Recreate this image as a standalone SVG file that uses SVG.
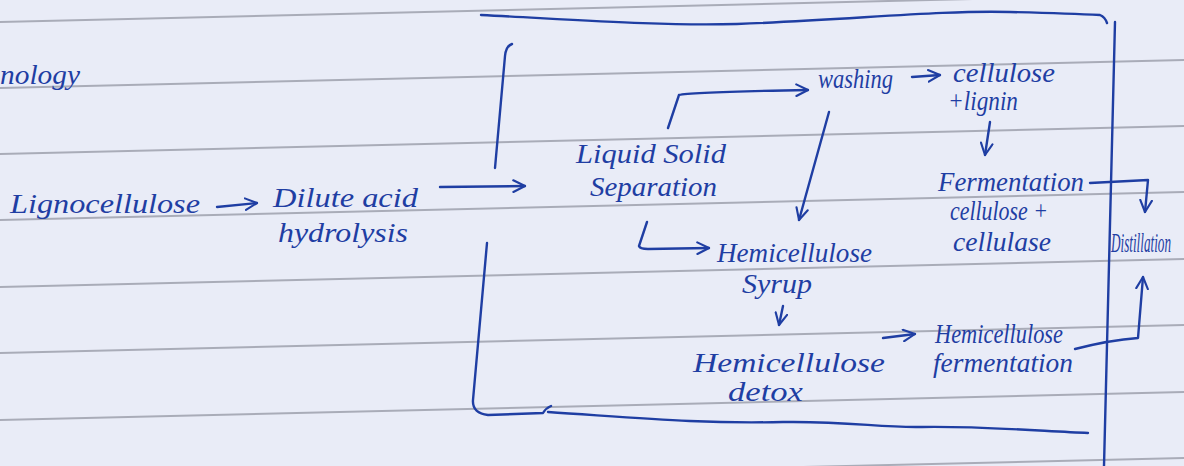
<svg xmlns="http://www.w3.org/2000/svg" width="1184" height="466" viewBox="0 0 1184 466">
<style>
.paper{fill:#e9ecf7}
.rule{stroke:#a9acb8;stroke-width:2;fill:none}
.ink{stroke:#1f3ea3;stroke-width:2.4;fill:none;stroke-linecap:round;stroke-linejoin:round}
.t{font-family:"Liberation Serif",serif;font-style:italic;font-size:27px;fill:#1f3ea3}
</style>
<defs>
<marker id="chev" viewBox="0 0 12 12" refX="11" refY="6" markerWidth="14" markerHeight="14" markerUnits="userSpaceOnUse" orient="auto">
<path d="M1,1 L11,6 L1,11" fill="none" stroke="#1f3ea3" stroke-width="1.8" stroke-linecap="round" stroke-linejoin="round"/>
</marker>
</defs>
<rect class="paper" x="0" y="0" width="1184" height="466"/>
<g id="rules">
<line class="rule" x1="0" y1="22" x2="1184" y2="-6"/>
<line class="rule" x1="0" y1="88" x2="1184" y2="60"/>
<line class="rule" x1="0" y1="154" x2="1184" y2="126"/>
<line class="rule" x1="0" y1="220" x2="1184" y2="192"/>
<line class="rule" x1="0" y1="287" x2="1184" y2="259"/>
<line class="rule" x1="0" y1="353" x2="1184" y2="325"/>
<line class="rule" x1="0" y1="420" x2="1184" y2="392"/>
<line class="rule" x1="0" y1="486" x2="1184" y2="458"/>
</g>
<g id="frame" class="ink">
<path d="M481,15 C580,20 660,26 737,24 C850,20 940,10 1010,12 C1050,13 1080,14 1100,15 Q1105,17 1107,23"/>
<path d="M1115,22 L1104,466"/>
<path d="M512,44 Q506,46 505,56 L495,168"/>
<path d="M487,243 L473,400 Q472,413 488,415 L543,413 Q546,408 551,406"/>
<path d="M548,412 C640,418 700,424 783,422 C850,421 880,428 922,427 C980,426 1040,431 1088,433"/>
</g>
<g id="connectors" class="ink">
<path d="M217,207 L257,203" marker-end="url(#chev)"/>
<path d="M440,187 L525,186" marker-end="url(#chev)"/>
<path d="M668,128 L679,95 Q690,92 808,90" marker-end="url(#chev)"/>
<path d="M647,222 L639,246 Q640,249 648,249 L709,248" marker-end="url(#chev)"/>
<path d="M829,112 L799,220" marker-end="url(#chev)"/>
<path d="M912,77 L940,75" marker-end="url(#chev)"/>
<path d="M990,122 L985,155" marker-end="url(#chev)"/>
<path d="M1090,183 L1148,180 L1145,212" marker-end="url(#chev)"/>
<path d="M783,306 L779,325" marker-end="url(#chev)"/>
<path d="M883,338 L915,334" marker-end="url(#chev)"/>
<path d="M1075,349 Q1110,340 1138,338 L1143,277" marker-end="url(#chev)"/>
</g>
<g id="title"><text class="t" x="0" y="84" font-size="32" textLength="80" lengthAdjust="spacingAndGlyphs">nology</text></g>
<g id="lignocellulose"><text class="t" x="10" y="213" textLength="190" lengthAdjust="spacingAndGlyphs">Lignocellulose</text></g>
<g id="dilute-acid"><text class="t" x="273" y="207" textLength="145" lengthAdjust="spacingAndGlyphs">Dilute acid</text><text class="t" x="278" y="242" textLength="130" lengthAdjust="spacingAndGlyphs">hydrolysis</text></g>
<g id="separation"><text class="t" x="576" y="163" textLength="150" lengthAdjust="spacingAndGlyphs">Liquid Solid</text><text class="t" x="590" y="196" textLength="127" lengthAdjust="spacingAndGlyphs">Separation</text></g>
<g id="washing"><text class="t" x="818" y="88" textLength="75" lengthAdjust="spacingAndGlyphs">washing</text></g>
<g id="cellulose-lignin"><text class="t" x="953" y="82" textLength="102" lengthAdjust="spacingAndGlyphs">cellulose</text><text class="t" x="948" y="110" font-size="22" textLength="70" lengthAdjust="spacingAndGlyphs">+lignin</text></g>
<g id="fermentation-cellulose"><text class="t" x="938" y="191" textLength="146" lengthAdjust="spacingAndGlyphs">Fermentation</text><text class="t" x="950" y="220" textLength="98" lengthAdjust="spacingAndGlyphs">cellulose +</text><text class="t" x="953" y="251" textLength="98" lengthAdjust="spacingAndGlyphs">cellulase</text></g>
<g id="distillation"><text class="t" x="1111" y="252" font-size="18" textLength="60" lengthAdjust="spacingAndGlyphs">Distillation</text></g>
<g id="hemicellulose-syrup"><text class="t" x="717" y="262" font-size="25" textLength="155" lengthAdjust="spacingAndGlyphs">Hemicellulose</text><text class="t" x="742" y="293" font-size="24" textLength="70" lengthAdjust="spacingAndGlyphs">Syrup</text></g>
<g id="hemicellulose-detox"><text class="t" x="693" y="372" textLength="192" lengthAdjust="spacingAndGlyphs">Hemicellulose</text><text class="t" x="728" y="401" textLength="75" lengthAdjust="spacingAndGlyphs">detox</text></g>
<g id="hemicellulose-fermentation"><text class="t" x="935" y="343" textLength="128" lengthAdjust="spacingAndGlyphs">Hemicellulose</text><text class="t" x="933" y="372" textLength="140" lengthAdjust="spacingAndGlyphs">fermentation</text></g>
</svg>
